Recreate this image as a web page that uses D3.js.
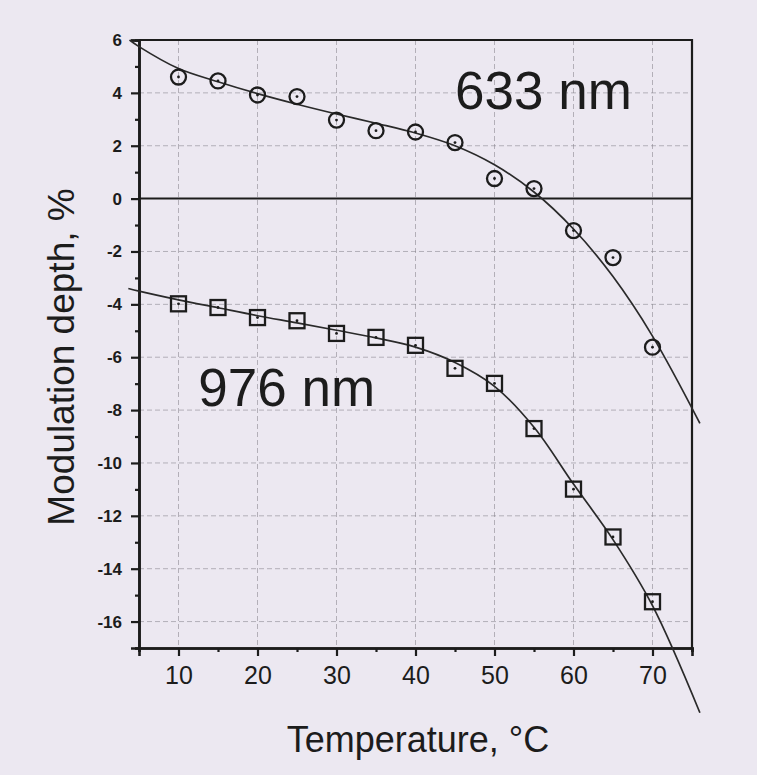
<!DOCTYPE html>
<html>
<head>
<meta charset="utf-8">
<script src="https://cdn.jsdelivr.net/npm/d3@7"></script>
<style>
  html, body { margin: 0; padding: 0; background: #ece8f1; }
  svg { display: block; }
  text { font-family: "Liberation Sans", Arial, sans-serif; fill: #1c1c1c; }
</style>
</head>
<body>
<svg id="chart" width="757" height="775"></svg>
<script>
// Measured temperatures (°C)
const temperature = [10, 15, 20, 25, 30, 35, 40, 45, 50, 55, 60, 65, 70];

// Modulation depth (%) at 633 nm (circles) and 976 nm (squares)
const depth633 = [4.6, 4.45, 3.92, 3.86, 2.97, 2.57, 2.52, 2.12, 0.76, 0.38, -1.21, -2.23, -5.62];
const depth976 = [-3.98, -4.12, -4.5, -4.62, -5.1, -5.25, -5.55, -6.42, -6.99, -8.7, -10.99, -12.8, -15.25];

// Fitted curves, sampled along their length
const fit633T = [3.8, 5, 10, 15, 20, 25, 30, 35, 40, 45, 50, 55, 60, 65, 70, 76];
const fit633D = [6.0, 5.75, 4.92, 4.42, 3.97, 3.57, 3.2, 2.85, 2.48, 2.0, 1.28, 0.25, -1.15, -2.95, -5.2, -8.5];
const fit976T = [3.65, 5, 10, 15, 20, 25, 30, 35, 40, 45, 50, 55, 60, 65, 70, 76];
const fit976D = [-3.4, -3.5, -3.83, -4.13, -4.43, -4.7, -4.98, -5.27, -5.62, -6.2, -7.1, -8.65, -10.8, -12.9, -15.4, -19.45];

// Axis ticks
const xMajor = [10, 20, 30, 40, 50, 60, 70];
const xMinor = [5, 15, 25, 35, 45, 55, 65, 75];
const yMajor = [-16, -14, -12, -10, -8, -6, -4, -2, 0, 2, 4, 6];
const yMinor = [-17, -15, -13, -11, -9, -7, -5, -3, -1, 1, 3, 5];

// Curve labels
const curveLabels = [
  { text: "633 nm", t: 45, d: 3.4 },
  { text: "976 nm", t: 12.5, d: -7.85 }
];

const svg = d3.select("#chart");
const ink = "#1c1c1c";

const x = d3.scaleLinear().domain([5, 75]).range([139, 692]);
const y = d3.scaleLinear().domain([-17, 6]).range([648, 40]);

// Grid
const grid = svg.append("g");
grid.selectAll("line.gx").data(xMajor).join("line")
  .attr("x1", d => x(d)).attr("x2", d => x(d))
  .attr("y1", y(6)).attr("y2", y(-17))
  .attr("stroke", "#85828b").attr("stroke-width", 1)
  .attr("stroke-dasharray", "5,3").attr("opacity", 0.55);
grid.selectAll("line.gy").data(yMajor.filter(v => v !== 0 && v !== 6)).join("line")
  .attr("x1", x(5)).attr("x2", x(75))
  .attr("y1", d => y(d)).attr("y2", d => y(d))
  .attr("stroke", "#85828b").attr("stroke-width", 1)
  .attr("stroke-dasharray", "5,3").attr("opacity", 0.55);

// Zero line
svg.append("line")
  .attr("x1", x(5)).attr("x2", x(75))
  .attr("y1", y(0)).attr("y2", y(0))
  .attr("stroke", ink).attr("stroke-width", 2);

// Frame (top and right)
svg.append("path")
  .attr("d", `M${x(5)},${y(6)}H${x(75)}V${y(-17)}`)
  .attr("fill", "none").attr("stroke", ink).attr("stroke-width", 2.2);

// Axes
const fmt = d => String(d);
const gx = svg.append("g").attr("transform", `translate(0,${y(-17)})`)
  .call(d3.axisBottom(x).tickValues(xMajor).tickSize(8).tickPadding(10).tickFormat(fmt));
const gxm = svg.append("g").attr("transform", `translate(0,${y(-17)})`)
  .call(d3.axisBottom(x).tickValues(xMinor).tickSize(4).tickFormat(""));
const gy = svg.append("g").attr("transform", `translate(${x(5)},0)`)
  .call(d3.axisLeft(y).tickValues(yMajor).tickSize(8).tickPadding(9).tickFormat(fmt));
const gym = svg.append("g").attr("transform", `translate(${x(5)},0)`)
  .call(d3.axisLeft(y).tickValues(yMinor).tickSize(4).tickFormat(""));

[gx, gxm, gy, gym].forEach(g => {
  g.select(".domain").attr("stroke", ink).attr("stroke-width", 2.6);
  g.selectAll(".tick line").attr("stroke", ink).attr("stroke-width", 2.2);
});
gx.selectAll(".tick text").attr("font-size", 25).attr("fill", ink);
gy.selectAll(".tick text").attr("font-size", 17).attr("font-weight", "bold").attr("fill", ink);

// Fitted curves
const line = d3.line().curve(d3.curveCatmullRom.alpha(0.5));
svg.append("path")
  .attr("d", line(fit633T.map((t, i) => [x(t), y(fit633D[i])])))
  .attr("fill", "none").attr("stroke", "#2a2a2a").attr("stroke-width", 1.7);
svg.append("path")
  .attr("d", line(fit976T.map((t, i) => [x(t), y(fit976D[i])])))
  .attr("fill", "none").attr("stroke", "#2a2a2a").attr("stroke-width", 1.7);

// 633 nm markers: open circles with a centre dot
const c633 = svg.append("g");
temperature.forEach((t, i) => {
  const cx = x(t), cy = y(depth633[i]);
  c633.append("circle").attr("cx", cx).attr("cy", cy).attr("r", 7.5)
    .attr("fill", "none").attr("stroke", ink).attr("stroke-width", 2.3);
  c633.append("circle").attr("cx", cx).attr("cy", cy).attr("r", 1.4).attr("fill", ink);
});

// 976 nm markers: open squares with a centre dot
const s976 = svg.append("g");
temperature.forEach((t, i) => {
  const cx = x(t), cy = y(depth976[i]);
  s976.append("rect").attr("x", cx - 7.5).attr("y", cy - 7.5)
    .attr("width", 15).attr("height", 15)
    .attr("fill", "none").attr("stroke", ink).attr("stroke-width", 2.3);
  s976.append("circle").attr("cx", cx).attr("cy", cy).attr("r", 1.4).attr("fill", ink);
});

// Curve labels
svg.selectAll("text.lbl").data(curveLabels).join("text")
  .attr("class", "lbl")
  .attr("x", d => x(d.t)).attr("y", d => y(d.d))
  .attr("font-size", 53).attr("fill", "#111")
  .text(d => d.text);

// Axis titles
svg.append("text")
  .attr("x", 418).attr("y", 752)
  .attr("text-anchor", "middle").attr("font-size", 36)
  .text("Temperature, °C");
svg.append("text")
  .attr("transform", "translate(74,357) rotate(-90)")
  .attr("text-anchor", "middle").attr("font-size", 37)
  .text("Modulation depth, %");
</script>
</body>
</html>
